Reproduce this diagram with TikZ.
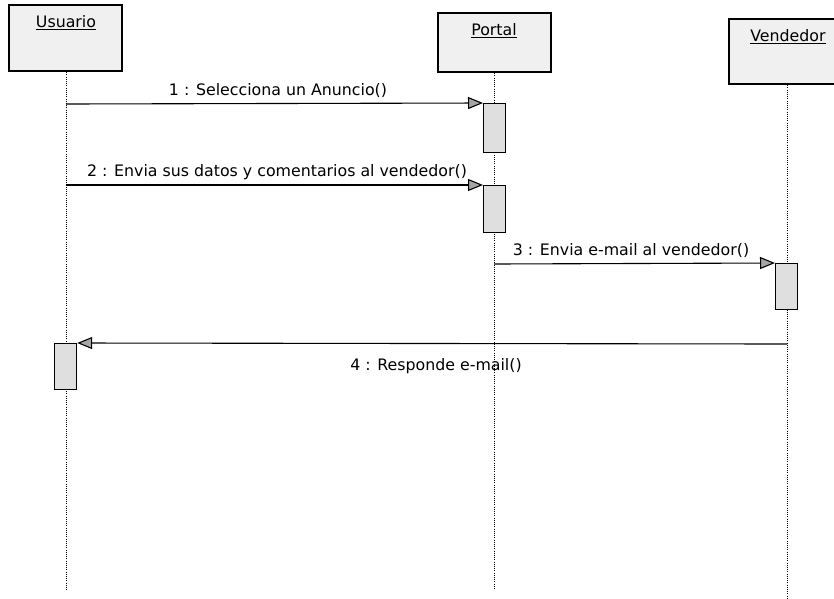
\documentclass[tikz,border=0pt]{standalone}
\usepackage{fontspec}
\setmainfont{DejaVu Sans}
\usetikzlibrary{arrows.meta}
\begin{document}
\begin{tikzpicture}[x=1pt,y=-1pt,
  obj/.style={draw=black,line width=1.6pt,fill=gray!12,anchor=north west,inner sep=0pt},
  act/.style={draw=black,line width=1.2pt,fill=gray!25,anchor=north west,inner sep=0pt,minimum width=22pt},
  life/.style={black,line width=1pt,dash pattern=on 1pt off 1.2pt},
  msg/.style={black,line width=1.1pt,-{Triangle[length=15pt,width=12pt,fill=gray!70]}},
  lbl/.style={font=\fontsize{15.8}{18}\selectfont,inner sep=1pt}]
\useasboundingbox (0,0) rectangle (834,598);
\begin{scope}
\clip (0,0) rectangle (834,598);
% objects
\node[obj,minimum width=113pt,minimum height=66pt] (usr) at (8,4) {};
\node[lbl,anchor=center] at (66,23) {\underline{Usuario}};
\node[obj,minimum width=113pt,minimum height=59pt] (por) at (437,12) {};
\node[lbl,anchor=center] at (494,31) {\underline{Portal}};
\node[obj,minimum width=118pt,minimum height=65pt] (ven) at (728,18) {};
\node[lbl,anchor=center] at (788,37) {\underline{Vendedor}};
% lifelines
\coordinate (uend) at (66,590);
\coordinate (pend) at (494,590);
\coordinate (vend) at (787,598);
\draw[life] (66,70) -- (uend);
\draw[life] (494,71) -- (pend);
\draw[life] (787,83) -- (vend);
% activations
\node[act,minimum height=49pt] (a1) at (483,103) {};
\node[act,minimum height=47pt] (a2) at (483,185) {};
\node[act,minimum height=46pt] (a3) at (775,263) {};
\node[act,minimum height=46pt] (a4) at (54,343) {};
% messages
\coordinate (m1s) at (66,104);
\coordinate (m2s) at (66,185);
\coordinate (m3s) at (494,264);
\coordinate (m4s) at (787,344);
\draw[msg] (m1s) -- (a1.north west);
\node[lbl,anchor=center] at (278,91) {1 : Selecciona un Anuncio()};
\draw[msg] (m2s) -- (a2.north west);
\node[lbl,anchor=center] at (277,172) {2 : Envia sus datos y comentarios al vendedor()};
\draw[msg] (m3s) -- (a3.north west);
\node[lbl,anchor=center] at (631,251) {3 : Envia e-mail al vendedor()};
\draw[msg] (m4s) -- (a4.north east);
\node[lbl,anchor=center] at (436,366) {4 : Responde e-mail()};
\end{scope}
\end{tikzpicture}
\end{document}
